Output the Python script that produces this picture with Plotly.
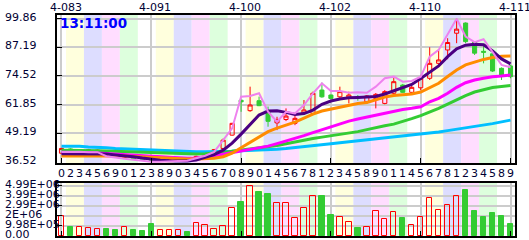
import plotly.graph_objects as go

idx = list(range(51))
slot_digits = list("0234569012389" + "0345670" + "8901456781" + "2345890114" + "56781234589")
date_labels = ["4-083", "4-091", "4-100", "4-102", "4-110", "4-111"]
date_pos = [0, 10, 20, 30, 40, 50]
time_label = "13:11:00"

opens = [40.4, 42.3, 41.2, 41.5, 41.3, 41.5, 39.8, 38.5, 38.8, 37.9, 37.6, 36.9, 37.1, 37.3, 37.7, 37.8, 39.0, 40.3,
         42.5, 48.4, 63.8, 59.2, 63.6, 58.7, 53.8, 55.3, 53.6, 58.0, 58.0, 68.3, 66.1, 65.3, 64.6, 65.3, 63.1, 64.6,
         62.4, 66.9, 70.5, 67.3, 69.3, 73.5, 80.1, 86.0, 93.4, 97.9, 89.5, 85.4, 84.3, 77.9, 78.95]
closes = [42.5, 41.4, 41.8, 41.9, 41.7, 39.8, 38.6, 38.9, 37.9, 37.5, 36.9, 37.3, 37.5, 37.6, 37.4, 39.0, 40.3, 42.0,
          46.2, 53.6, 63.1, 61.7, 61.4, 54.5, 55.3, 56.8, 55.8, 59.5, 66.9, 65.3, 64.6, 67.6, 66.1, 64.9, 65.7, 66.4,
          67.6, 72.0, 67.3, 69.5, 73.5, 80.1, 81.6, 89.3, 95.2, 89.7, 84.6, 85.0, 76.7, 74.96, 74.2]
highs = [42.8, 42.6, 42.2, 42.3, 42.0, 41.6, 40.0, 39.4, 39.0, 38.1, 37.8, 37.6, 37.8, 37.9, 37.9, 39.3, 40.6, 42.3,
         46.9, 53.8, 64.0, 69.8, 65.4, 61.0, 56.5, 60.2, 57.0, 63.9, 67.6, 71.6, 66.3, 69.8, 67.6, 66.1, 66.1, 67.0,
         68.3, 74.5, 71.0, 70.1, 75.0, 87.2, 86.3, 91.2, 99.86, 98.2, 89.7, 87.8, 85.1, 78.3, 79.4]
lows = [40.0, 41.0, 40.8, 41.0, 40.9, 39.5, 38.3, 38.2, 37.6, 37.2, 36.52, 36.7, 36.9, 37.0, 37.1, 37.0, 38.7, 40.0,
        42.3, 48.2, 58.7, 58.7, 61.2, 52.1, 50.6, 54.6, 52.8, 57.4, 57.7, 64.9, 64.2, 64.8, 62.4, 63.6, 62.4, 60.2,
        62.0, 66.5, 67.0, 66.9, 68.3, 72.75, 79.4, 81.9, 89.0, 89.0, 83.8, 80.1, 76.3, 72.75, 73.5]
volumes = [1.99e6, 0.93e6, 0.89e6, 0.79e6, 0.70e6, 0.73e6, 0.63e6, 0.89e6, 0.63e6, 0.53e6,
           1.22e6, 0.59e6, 0.59e6, 0.56e6, 0.40e6, 1.26e6, 1.09e6, 0.70e6, 0.99e6, 2.74e6,
           3.34e6, 4.99e6, 4.33e6, 4.13e6, 3.24e6, 3.24e6, 1.75e6, 2.74e6, 4.00e6, 3.93e6,
           2.08e6, 1.85e6, 1.42e6, 0.82e6, 0.86e6, 2.48e6, 1.69e6, 2.35e6, 1.82e6, 1.09e6,
           1.85e6, 3.74e6, 2.58e6, 3.07e6, 3.97e6, 4.56e6, 2.48e6, 1.92e6, 2.32e6, 1.99e6, 1.19e6]

ma_violet = [40.99, 41.08, 41.08, 40.86, 40.86, 39.09, 38.42, 37.98, 37.54, 37.10, 36.65, 36.65, 36.96, 36.96, 37.10,
             38.07, 39.31, 40.99, 46.18, 51.36, 65.35, 65.66, 66.86, 58.71, 54.28, 58.71, 58.0, 61.68, 66.86, 71.29,
             67.88, 67.88, 67.12, 67.35, 67.12, 69.78, 73.50, 74.21, 72.0, 72.31, 74.21, 83.07, 86.04, 92.68, 99.8,
             91.93, 89.45, 90.77, 85.28, 79.39, 78.37]
ma_indigo = [40.20, 40.20, 40.11, 40.20, 40.28, 40.06, 39.62, 39.31, 38.87, 38.29, 37.76, 37.32, 37.10, 36.96, 36.96,
             37.41, 38.42, 39.75, 41.75, 44.85, 48.83, 53.26, 57.25, 59.02, 59.15, 58.44, 57.47, 57.91, 59.46, 61.99,
             63.45, 64.33, 64.91, 65.04, 65.09, 65.44, 66.55, 67.88, 69.21, 70.76, 73.41, 76.07, 78.95, 83.07, 86.48,
             88.12, 88.56, 88.34, 85.59, 82.05, 79.84]
ma_orange = [39.22, 39.22, 39.22, 39.31, 39.40, 39.40, 39.31, 39.18, 39.00, 38.78, 38.56, 38.34, 38.11, 37.98, 37.85,
             37.85, 37.98, 38.20, 38.87, 40.42, 42.85, 45.29, 47.73, 49.94, 51.49, 52.82, 54.15, 55.92, 57.69, 59.02,
             59.91, 60.79, 61.68, 62.34, 62.78, 64.11, 65.22, 65.88, 66.33, 66.55, 67.43, 69.43, 71.29, 74.30, 77.18,
             79.39, 80.72, 81.83, 82.71, 83.25, 83.38]
ma_magenta = [40.86, 40.86, 40.77, 40.64, 40.51, 40.28, 39.97, 39.75, 39.53, 39.31, 38.96, 38.65, 38.42, 38.29, 38.20,
              38.29, 38.65, 39.31, 39.97, 40.73, 41.52, 42.19, 42.85, 43.52, 44.62, 45.73, 46.84, 48.17, 49.50, 50.83,
              52.15, 53.48, 54.59, 55.48, 56.36, 57.25, 58.13, 59.02, 59.68, 60.22, 60.92, 63.14, 64.64, 66.86, 69.52,
              71.55, 72.75, 73.50, 74.21, 74.52, 74.96]
ma_green = [41.75, 41.75, 41.66, 41.57, 41.48, 41.35, 41.21, 41.08, 40.90, 40.73, 40.55, 40.42, 40.28, 40.15, 40.06,
            40.06, 40.20, 40.42, 40.77, 41.30, 41.75, 42.19, 42.76, 43.21, 43.83, 44.62, 45.42, 46.31, 46.93, 47.50,
            48.08, 48.61, 49.14, 49.94, 50.83, 51.80, 52.51, 53.26, 54.37, 55.70, 57.03, 58.58, 60.22, 62.12, 64.11,
            65.88, 67.43, 68.54, 69.43, 69.87, 70.31]
ma_cyan = [43.52, 43.52, 43.43, 43.16, 43.07, 42.85, 42.50, 42.32, 42.10, 41.97, 41.66, 41.52, 41.30, 41.21, 41.17,
           41.08, 41.08, 41.08, 41.08, 41.30, 41.52, 41.66, 41.75, 41.97, 42.19, 42.50, 42.85, 43.21, 43.65, 44.09,
           44.54, 44.98, 45.42, 45.82, 46.22, 46.62, 47.02, 47.42, 47.81, 48.26, 48.74, 49.28, 49.81, 50.38, 50.96,
           51.58, 52.20, 52.82, 53.48, 54.24, 55.03]

price_ticks = [36.52, 49.19, 61.85, 74.52, 87.19, 99.86]
price_tick_text = ["36.52", "49.19", "61.85", "74.52", "87.19", "99.86"]
vol_ticks = [0, 0.998e6, 2.0e6, 2.99e6, 3.99e6, 4.99e6]
vol_tick_text = ["0.00", "9.98E+05", "2E+06", "2.99E+06", "3.99E+06", "4.99E+06"]

RED = "#FF0000"
GREEN = "#33CC33"
TXT = "#000033"
FONT = "DejaVu Sans"

fig = go.Figure()

fig.add_trace(go.Candlestick(
    x=idx, open=opens, high=highs, low=lows, close=closes,
    increasing=dict(line=dict(color=RED, width=1), fillcolor="rgba(0,0,0,0)"),
    decreasing=dict(line=dict(color=GREEN, width=1), fillcolor=GREEN),
    whiskerwidth=0, xaxis="x", yaxis="y", showlegend=False, hoverinfo="skip"))

for vals, col, w in [(ma_cyan, "#00BFFF", 3), (ma_green, "#33CC33", 3), (ma_magenta, "#FF00FF", 3),
                     (ma_orange, "#FF8C00", 3), (ma_indigo, "#4B0082", 3), (ma_violet, "#EE82EE", 2)]:
    fig.add_trace(go.Scatter(x=idx, y=vals, mode="lines", line=dict(color=col, width=w),
                             xaxis="x", yaxis="y", showlegend=False, hoverinfo="skip"))

up = [c >= o for o, c in zip(opens, closes)]
fig.add_trace(go.Bar(
    x=idx, y=volumes, width=0.6,
    marker=dict(color=["rgba(0,0,0,0)" if u else GREEN for u in up],
                line=dict(color=[RED if u else GREEN for u in up], width=1)),
    xaxis="x2", yaxis="y2", showlegend=False, hoverinfo="skip"))

band_colors = ["#FFFFDD", "#DDDDFF", "#FFDDFF", "#DDFFDD", None]
shapes = []
for yref in ["y domain", "y2 domain"]:
    for k, start in enumerate(range(1, 51, 2)):
        col = band_colors[k % 5]
        if col is None:
            continue
        shapes.append(dict(type="rect", xref="x" if yref == "y domain" else "x2", yref=yref,
                           x0=start - 0.5, x1=start + 1.5, y0=0, y1=1, fillcolor=col,
                           line=dict(width=0), layer="below"))

annotations = []
for v, t in zip(price_ticks, price_tick_text):
    annotations.append(dict(xref="paper", yref="y", x=-54 / 458, y=v, text=t, showarrow=False,
                            xanchor="left", yanchor="middle", yshift=1.5,
                            font=dict(family=FONT, size=11, color=TXT)))
for v, t in zip(vol_ticks, vol_tick_text):
    annotations.append(dict(xref="paper", yref="y2", x=-54 / 458, y=v, text=t, showarrow=False,
                            xanchor="left", yanchor="middle", yshift=1.5,
                            font=dict(family=FONT, size=11, color=TXT)))
for i, d in zip(idx, slot_digits):
    annotations.append(dict(xref="x", yref="paper", x=i, y=(236 - 173) / 221, text=d, showarrow=False,
                            xanchor="center", yanchor="middle",
                            font=dict(family=FONT, size=11, color=TXT)))
for p, t in zip(date_pos, date_labels):
    annotations.append(dict(xref="x", yref="paper", x=p + 0.45, y=(236 - 8) / 221, text=t, showarrow=False,
                            xanchor="center", yanchor="middle",
                            font=dict(family=FONT, size=11, color=TXT)))
annotations.append(dict(xref="paper", yref="paper", x=1 / 458, y=(236 - 23) / 221, text="<b>%s</b>" % time_label,
                        showarrow=False, xanchor="left", yanchor="middle",
                        font=dict(family=FONT, size=13.5, color="#0000FF")))

axis_common = dict(showline=True, linecolor="black", linewidth=2, mirror=True, zeroline=False,
                   showgrid=True, gridcolor="#CCCCCC", gridwidth=2,
                   ticks="inside", ticklen=5, tickcolor="black", tickwidth=1, showticklabels=False)

fig.update_layout(
    width=529, height=240, margin=dict(l=57, r=14, t=15, b=4),
    paper_bgcolor="white", plot_bgcolor="white", showlegend=False,
    shapes=shapes, annotations=annotations, bargap=0, boxgap=0.35,
    xaxis=dict(domain=[0, 1], range=[-0.5, 50.5], tickvals=date_pos, anchor="y",
               rangeslider=dict(visible=False), **axis_common),
    yaxis=dict(domain=[(236 - 163) / 221, 1], range=[36.08, 101.45], tickvals=price_ticks, anchor="x",
               **axis_common),
    xaxis2=dict(domain=[0, 1], range=[-0.5, 50.5], tickvals=date_pos, anchor="y2", **axis_common),
    yaxis2=dict(domain=[0, (236 - 183) / 221], range=[0, 5.26e6], tickvals=vol_ticks[1:], anchor="x2",
                **axis_common),
)

fig.write_html("out.html")
